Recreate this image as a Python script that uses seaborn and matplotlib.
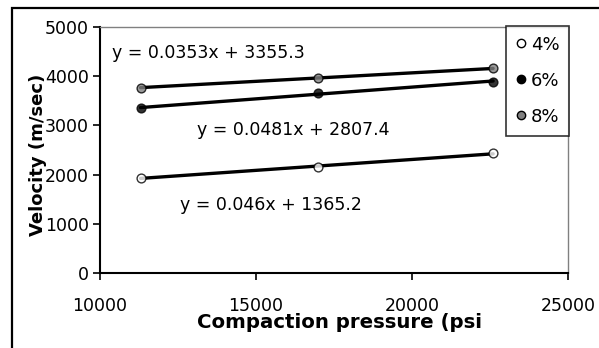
import matplotlib
matplotlib.use("Agg")
import matplotlib.pyplot as plt
import seaborn as sns
import pandas as pd
from matplotlib.patches import Rectangle
from matplotlib.lines import Line2D

# ---- data ----
pressure = [11300, 17000, 22600]
vel_4 = [1930, 2160, 2430]
vel_6 = [3350, 3660, 3890]
vel_8 = [3770, 3960, 4160]
series_labels = ["4%", "6%", "8%"]
equations = ["y = 0.046x + 1365.2", "y = 0.0481x + 2807.4", "y = 0.0353x + 3355.3"]
x_ticks = [10000, 15000, 20000, 25000]
y_ticks = [0, 1000, 2000, 3000, 4000, 5000]

df = pd.DataFrame({
    "pressure": pressure * 3,
    "velocity": vel_4 + vel_6 + vel_8,
    "content": [s for s in series_labels for _ in pressure],
})

sns.set_style("white")
plt.rcParams["font.family"] = ["DejaVu Sans"]
plt.rcParams["text.color"] = "black"
plt.rcParams["axes.labelcolor"] = "black"

fig = plt.figure(figsize=(5.99, 3.48), dpi=100)
ax = fig.add_axes([100/599, 75/348, 468/599, 246/348])

facecolors = {"4%": "white", "6%": "black", "8%": "#808080"}
for lab in series_labels:
    sub = df[df["content"] == lab]
    sns.regplot(data=sub, x="pressure", y="velocity", ax=ax, ci=None,
                scatter_kws=dict(s=40, facecolor=facecolors[lab], edgecolor="black",
                                 linewidths=1.0, zorder=3),
                line_kws=dict(color="black", lw=2.4, zorder=2))

# equation labels
eq_pos = [(12560, 1390), (13100, 2900), (10380, 4470)]
for txt, (xx, yy) in zip(equations, eq_pos):
    ax.text(xx, yy, txt, fontsize=12.5, ha="left", va="center", color="black")

ax.set_xlim(10000, 25000)
ax.set_ylim(0, 5000)
ax.set_xticks(x_ticks)
ax.set_yticks(y_ticks)
ax.tick_params(axis="both", labelsize=12.5, colors="black", length=5, width=1.2,
               direction="out", left=True, bottom=True)
ax.tick_params(axis="x", pad=12)
ax.tick_params(axis="y", pad=3)

for side in ["left", "bottom"]:
    ax.spines[side].set_color("black")
    ax.spines[side].set_linewidth(1.5)
for side in ["top", "right"]:
    ax.spines[side].set_color("#808080")
    ax.spines[side].set_linewidth(1.0)

ax.set_xlabel("Compaction pressure (psi", fontsize=14.2, fontweight="bold", color="black")
ax.set_ylabel("Velocity (m/sec)", fontsize=13, fontweight="bold", color="black")
ax.xaxis.set_label_coords(0.5117, -0.163)
ax.yaxis.set_label_coords(-0.113, 0.48)
ax.yaxis.label.set_zorder(0)

handles = [Line2D([], [], ls="none", marker="o", markersize=6,
                  markerfacecolor=facecolors[l], markeredgecolor="black",
                  markeredgewidth=1.0) for l in series_labels]
leg = ax.legend(handles, series_labels, loc="upper right",
                bbox_to_anchor=(1.003, 1.005), fontsize=13, frameon=True,
                fancybox=False, edgecolor="black", handlelength=0.6,
                handletextpad=0.25, borderpad=0.55, labelspacing=1.0,
                borderaxespad=0)
leg.get_frame().set_linewidth(1.2)
for t in leg.get_texts():
    t.set_color("black")

# outer chart frame
frame = Rectangle((12/599, -0.1), 1.0, (340/348) + 0.1, transform=fig.transFigure,
                  fill=False, edgecolor="black", linewidth=1.6, clip_on=False)
fig.patches.append(frame)

fig.savefig("out.png", dpi=100)
